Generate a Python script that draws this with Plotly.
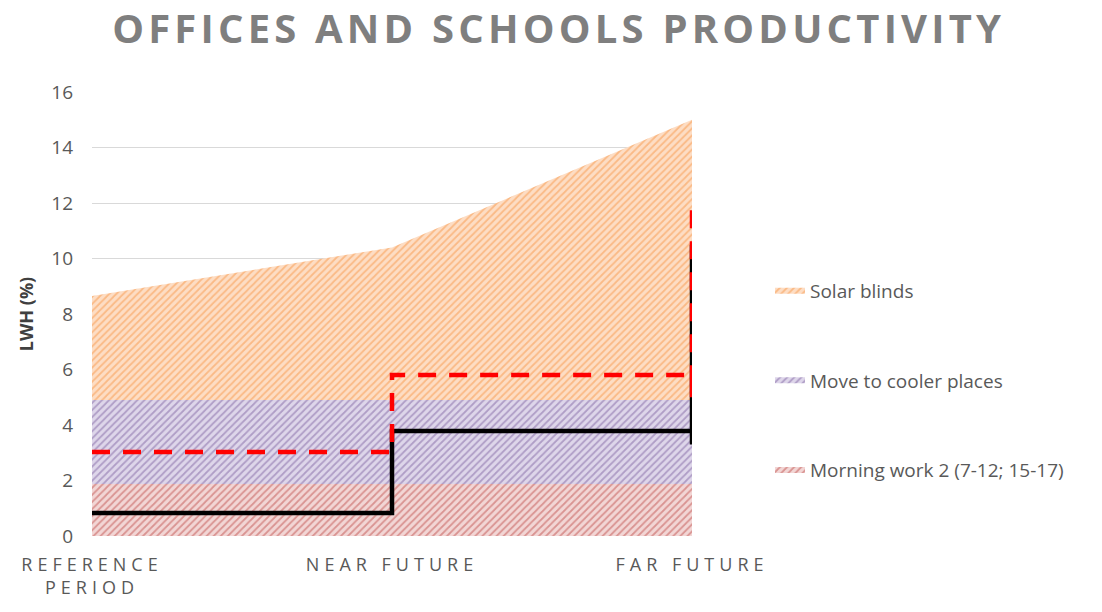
import plotly.graph_objects as go

periods = ["REFERENCE<br>PERIOD", "NEAR FUTURE", "FAR FUTURE"]
xpos = [0, 1, 2]

morning_work = [1.87, 1.87, 1.87]
move_cooler = [3.03, 3.03, 3.03]
solar_blinds = [3.75, 5.5, 10.1]

black_levels = [0.83, 3.78]
black_far_range = [3.3, 10.5]
red_levels = [3.03, 5.8]
red_far_range = [5.0, 12.0]

series = [
    ("Morning work 2 (7-12; 15-17)", morning_work, "#C0504D", "#F2D6D5"),
    ("Move to cooler places", move_cooler, "#8064A2", "#DED6EA"),
    ("Solar blinds", solar_blinds, "#F79646", "#FDDDC4"),
]

fig = go.Figure()
for i, (name, vals, fg, bg) in enumerate(series):
    fig.add_trace(go.Scatter(
        x=xpos, y=vals, name=name, stackgroup="one", mode="none",
        fillcolor=bg,
        fillpattern=dict(shape="/", fgcolor=fg, bgcolor=bg, size=5, solidity=0.35),
        legendgroup=name, legendrank=3 - i,
    ))

def step_xy(levels, far_range):
    xs, ys = [], []
    for k, lv in enumerate(levels):
        xs += [xpos[k], xpos[k + 1]]
        ys += [lv, lv]
    xs += [xpos[-1], xpos[-1]]
    ys += [far_range[0], far_range[1]]
    return xs, ys

bx, by = step_xy(black_levels, black_far_range)
fig.add_trace(go.Scatter(x=bx, y=by, mode="lines", line=dict(color="black", width=4.5),
                         showlegend=False, hoverinfo="skip"))
rx, ry = step_xy(red_levels, red_far_range)
fig.add_trace(go.Scatter(x=rx, y=ry, mode="lines",
                         line=dict(color="#FF0000", width=4.5, dash="18px,13px"),
                         showlegend=False, hoverinfo="skip"))

fig.update_layout(
    width=1102, height=612,
    margin=dict(l=92, r=410, t=92, b=76),
    paper_bgcolor="white", plot_bgcolor="white",
    font=dict(family="Open Sans, Liberation Sans, sans-serif", color="#595959"),
    title=dict(text="OFFICES AND SCHOOLS PRODUCTIVITY", x=0.507, xanchor="center",
               y=0.953, yanchor="middle", xref="container", yref="container",
               font=dict(size=40, color="#7F7F7F", family="Open Sans, sans-serif", weight="bold")),
    xaxis=dict(tickmode="array", tickvals=xpos, ticktext=periods, range=[0, 2],
               showgrid=False, zeroline=False, showline=False,
               tickfont=dict(size=18, color="#595959"), ticks="", ticklabelstandoff=16),
    yaxis=dict(range=[0, 16], dtick=2, showgrid=True, gridcolor="#D9D9D9", gridwidth=1,
               zeroline=False, showline=False, tickfont=dict(size=19, color="#595959"),
               ticks="", ticklen=0, ticklabelstandoff=18,
               title=dict(text="<b>LWH (%)</b>", font=dict(size=18, color="#404040"), standoff=12)),
    legend=dict(x=1.13, y=0.595, xanchor="left", yanchor="top", traceorder="grouped",
                tracegroupgap=62, font=dict(size=19, color="#595959", family="Open Sans, sans-serif"),
                itemwidth=30),
    showlegend=True,
)

post = """
var gd = document.getElementById('{plot_id}');
function applyLS(){
  gd.querySelectorAll('.gtitle').forEach(function(e){ e.style.letterSpacing = '4.2px'; });
  gd.querySelectorAll('.xtick text').forEach(function(e){ e.style.letterSpacing = '5px'; });
}
applyLS();
gd.on('plotly_afterplot', applyLS);
"""

fig.write_html("out.html", post_script=post)
